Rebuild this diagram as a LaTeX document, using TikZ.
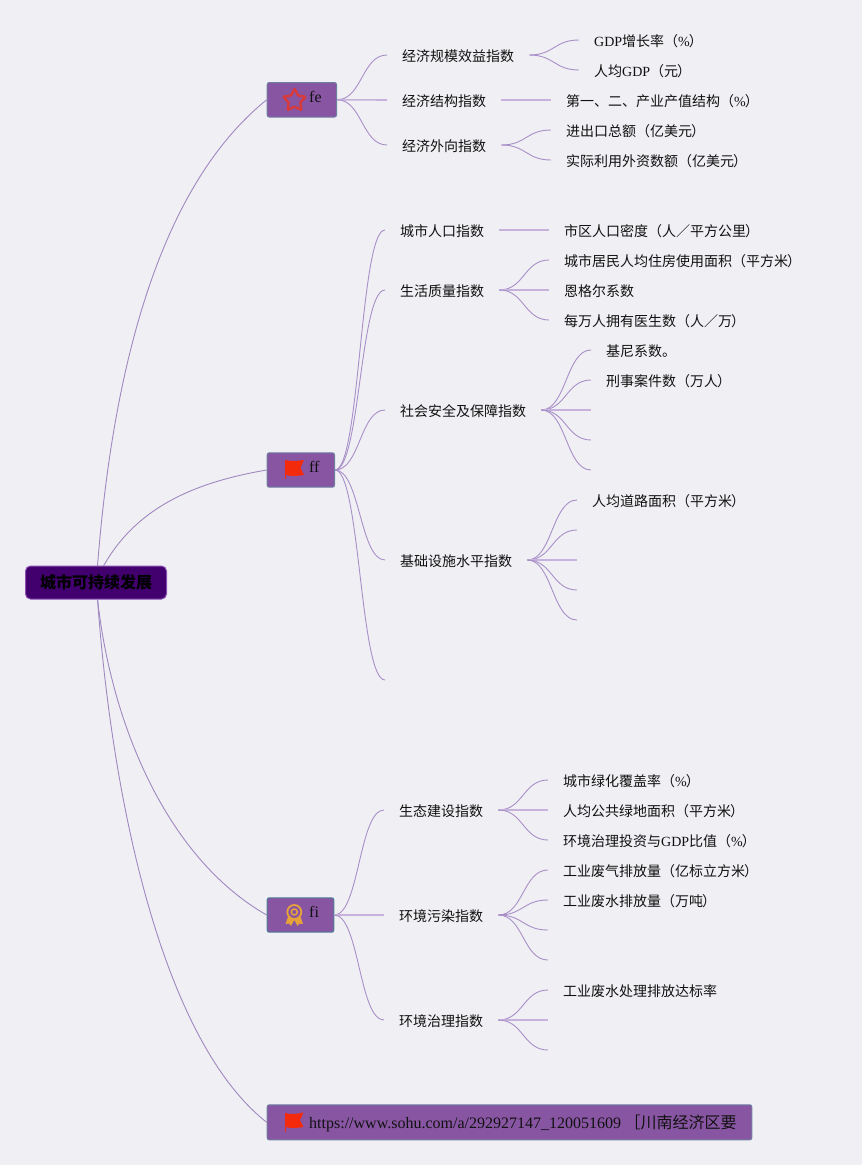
\documentclass[tikz,border=0pt]{standalone}
\usepackage{fontspec}
\setmainfont{Liberation Serif}
\newfontfamily\cjk{Noto Sans CJK SC}
\usetikzlibrary{calc,shapes.geometric}
\definecolor{bgc}{HTML}{F0F0F4}
\definecolor{boxc}{HTML}{8855A3}
\definecolor{boxl}{HTML}{6E7FA0}
\definecolor{rootc}{HTML}{42006E}
\definecolor{rootl}{HTML}{8A4FB0}
\definecolor{linkc}{HTML}{A88FC8}
\definecolor{rootlink}{HTML}{A088C0}
\definecolor{barc}{HTML}{C6B2DC}
\definecolor{flagc}{HTML}{F42A0C}
\definecolor{starc}{HTML}{D63A3A}
\definecolor{medalc}{HTML}{E8A23A}
\definecolor{txt}{HTML}{111111}
\newcommand{\cn}[1]{{\cjk #1}}
\newcommand{\rp}{{\kern-1pt\cjk ）}}
\tikzset{
 lab/.style={anchor=west,inner xsep=15pt,inner ysep=0pt,text height=14pt,text depth=1.4pt,text=txt,font=\fontsize{14}{16}\selectfont},
 hole/.style={anchor=west,inner sep=0pt,minimum size=0pt,outer sep=0pt},
 topbox/.style={draw=boxl,fill=boxc,line width=1pt,rounded corners=2pt,anchor=north west,inner sep=0pt},
 boxtext/.style={anchor=west,inner sep=0pt,text=txt,font=\fontsize{16}{18}\selectfont},
 link/.style={draw=linkc,line width=0.9pt},
 rootedge/.style={draw=rootlink,line width=0.9pt},
 bar/.style={draw=barc,line width=1.6pt}
}
\newcommand{\cv}[2]{\draw[link] (#1.east) .. controls ($(#1.east)!0.5!(#2.west |- #1.east)$) and ($(#1.east |- #2.west)!0.5!(#2.west)$) .. (#2.west);}
\newcommand{\st}[2]{\draw[bar] (#1.east) -- (#2.west);}
\begin{document}
\begin{tikzpicture}[x=1pt,y=-1pt]
\useasboundingbox (0,0) rectangle (862,1165);
\fill[bgc] (0,0) rectangle (862,1165);
% root
\node[draw=rootl,fill=rootc,line width=1pt,rounded corners=5pt,minimum width=141pt,minimum height=33pt,inner sep=0pt,text=black,font=\fontsize{16}{18}\selectfont] (root) at (96,582.5) {\cjk\bfseries 城市可持续发展};
\coordinate (rt) at (97.5,566);
\coordinate (rt2) at (103.5,566);
\coordinate (rb) at (97.5,599);
% top boxes
\node[topbox,minimum width=69.3pt,minimum height=34.5pt] (fe) at (266.7,82) {};
\node[topbox,minimum width=67.3pt,minimum height=34.4pt] (ff) at (266.7,452.3) {};
\node[topbox,minimum width=66.6pt,minimum height=34.4pt,draw=boxl!70!teal] (fi) at (266.7,897.3) {};
\node[topbox,minimum width=484.6pt,minimum height=35pt] (url) at (266.7,1104.3) {};
\node[boxtext] (fet) at (309,97) {fe};
\node[boxtext] (fft) at (309,467) {ff};
\node[boxtext] (fit) at (309,912) {fi};
\node[boxtext] (urlt) at (309,1123) {https://www.sohu.com/a/292927147\_120051609\hspace{3.5pt}\cn{［川南经济区要}};
% root edges
\draw[rootedge] (rt) .. controls (112,380) and (155,190) .. (fe.west);
\draw[rootedge] (rt2) .. controls (135,510) and (190,483) .. (ff.west);
\draw[rootedge] (rb) .. controls (112,730) and (170,860) .. (fi.west);
\draw[rootedge] (rb) .. controls (112,800) and (162,1040) .. (url.west);
% icons
\node[star,star points=5,star point ratio=2,draw=starc,line width=2.4pt,line join=round,rounded corners=1pt,minimum size=24pt,inner sep=0pt] (staricon) at (294.5,100.5) {};
\fill[flagc] (285,460) .. controls (291,461.5) and (298,461) .. (304,460) -- (300.5,467.5) -- (304,475) .. controls (298,476) and (291,476.5) .. (285.8,475) -- cycle;
\draw[flagc,line width=0.8pt] (285.2,460) -- (285.2,479);
\fill[flagc] (285,1113) .. controls (291,1114.5) and (298,1114) .. (303.5,1112.5) -- (300,1120) -- (303.5,1127) .. controls (298,1128) and (291,1128.5) .. (285.8,1127) -- cycle;
\draw[flagc,line width=0.8pt] (285.2,1113) -- (285.2,1132);
\begin{scope}[medalc]
\fill (288,916.5) -- (285.5,924) -- (289,923.5) -- (291,925.8) -- (294.3,920) -- (297.5,925.8) -- (299.5,923.5) -- (303,924) -- (300.5,916.5) -- cycle;
\fill[boxc] (294.3,912) circle (7.5pt);
\draw[line width=1.8pt] (294.3,912) circle (7pt);
\draw[line width=1.5pt] (294.3,912) circle (3pt);
\end{scope}
% fe
\node[lab] (a1) at (387,55) {\cn{经济规模效益指数}};
\node[lab] (a2) at (387,100) {\cn{经济结构指数}};
\node[lab] (a3) at (387,145) {\cn{经济外向指数}};
\node[lab] (a11) at (579,40) {GDP\cn{增长率（}\%\rp};
\node[lab] (a12) at (579,70) {\cn{人均}GDP\cn{（元}\rp};
\node[lab] (a21) at (551,100) {\cn{第一、二、产业产值结构（}\%\rp};
\node[lab] (a31) at (551,130) {\cn{进出口总额（亿美元}\rp};
\node[lab] (a32) at (551,160) {\cn{实际利用外资数额（亿美元}\rp};
\cv{fe}{a1} \draw[bar] (fe.east) -- (a2.west); \cv{fe}{a3}
\cv{a1}{a11} \cv{a1}{a12} \st{a2}{a21} \cv{a3}{a31} \cv{a3}{a32}
% ff
\node[lab] (b1) at (385,230) {\cn{城市人口指数}};
\node[lab] (b2) at (385,290) {\cn{生活质量指数}};
\node[lab] (b3) at (385,410) {\cn{社会安全及保障指数}};
\node[lab] (b4) at (385,560) {\cn{基础设施水平指数}};
\node[hole] (b5) at (385,680) {};
\node[lab] (b11) at (549,230) {\cn{市区人口密度（人／平方公里}\rp};
\node[lab] (b21) at (549,260) {\cn{城市居民人均住房使用面积（平方米}\rp};
\node[lab] (b22) at (549,290) {\cn{恩格尔系数}};
\node[lab] (b23) at (549,320) {\cn{每万人拥有医生数（人／万}\rp};
\node[lab] (b31) at (591,350) {\cn{基尼系数。}};
\node[lab] (b32) at (591,380) {\cn{刑事案件数（万人}\rp};
\node[hole] (b33) at (591,410) {};
\node[hole] (b34) at (591,440) {};
\node[hole] (b35) at (591,470) {};
\node[lab] (b41) at (577,500) {\cn{人均道路面积（平方米}\rp};
\node[hole] (b42) at (577,530) {};
\node[hole] (b43) at (577,560) {};
\node[hole] (b44) at (577,590) {};
\node[hole] (b45) at (577,620) {};
\cv{ff}{b1} \cv{ff}{b2} \cv{ff}{b3} \cv{ff}{b4} \cv{ff}{b5}
\st{b1}{b11} \cv{b2}{b21} \st{b2}{b22} \cv{b2}{b23}
\cv{b3}{b31} \cv{b3}{b32} \st{b3}{b33} \cv{b3}{b34} \cv{b3}{b35}
\cv{b4}{b41} \cv{b4}{b42} \st{b4}{b43} \cv{b4}{b44} \cv{b4}{b45}
% fi
\node[lab] (c1) at (384,810) {\cn{生态建设指数}};
\node[lab] (c2) at (384,915) {\cn{环境污染指数}};
\node[lab] (c3) at (384,1020) {\cn{环境治理指数}};
\node[lab] (c11) at (548,780) {\cn{城市绿化覆盖率（}\%\rp};
\node[lab] (c12) at (548,810) {\cn{人均公共绿地面积（平方米}\rp};
\node[lab] (c13) at (548,840) {\cn{环境治理投资与}GDP\cn{比值（}\%\rp};
\node[lab] (c21) at (548,870) {\cn{工业废气排放量（亿标立方米}\rp};
\node[lab] (c22) at (548,900) {\cn{工业废水排放量（万吨}\rp};
\node[hole] (c23) at (548,930) {};
\node[hole] (c24) at (548,960) {};
\node[lab] (c31) at (548,990) {\cn{工业废水处理排放达标率}};
\node[hole] (c32) at (548,1020) {};
\node[hole] (c33) at (548,1050) {};
\cv{fi}{c1} \draw[bar] (fi.east) -- (c2.west); \cv{fi}{c3}
\cv{c1}{c11} \st{c1}{c12} \cv{c1}{c13}
\cv{c2}{c21} \cv{c2}{c22} \cv{c2}{c23} \cv{c2}{c24}
\cv{c3}{c31} \st{c3}{c32} \cv{c3}{c33}
\end{tikzpicture}
\end{document}
